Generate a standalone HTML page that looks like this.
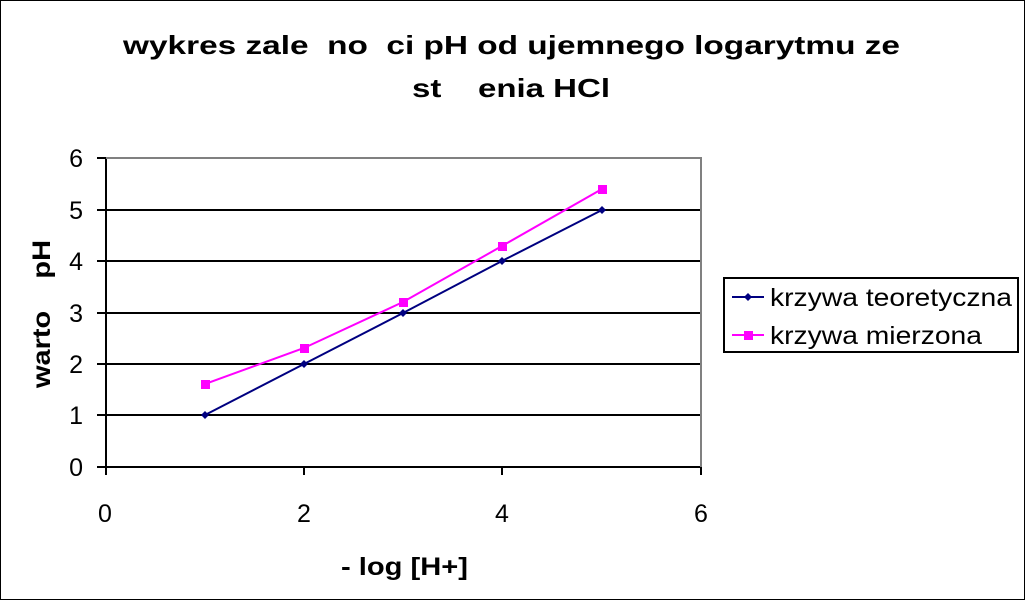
<!DOCTYPE html>
<html><head><meta charset="utf-8"><style>
body{margin:0;background:#fff}
svg text{font-family:"Liberation Sans",sans-serif}
</style></head><body>
<svg width="1025" height="600" xmlns="http://www.w3.org/2000/svg">
<rect x="0.5" y="0.5" width="1024" height="599" fill="#fff" stroke="#000"/>
<text x="123" y="54" font-size="26" font-weight="bold" textLength="777" lengthAdjust="spacingAndGlyphs" xml:space="preserve">wykres zale  no  ci pH od ujemnego logarytmu ze</text>
<text x="412" y="97" font-size="26" font-weight="bold" textLength="198" lengthAdjust="spacingAndGlyphs" xml:space="preserve">st    enia HCl</text>
<g stroke="#000" stroke-width="2">
<line x1="97" y1="210" x2="701" y2="210"/>
<line x1="97" y1="261" x2="701" y2="261"/>
<line x1="97" y1="313" x2="701" y2="313"/>
<line x1="97" y1="364" x2="701" y2="364"/>
<line x1="97" y1="415" x2="701" y2="415"/>
<line x1="97" y1="467" x2="701" y2="467"/>
<line x1="97" y1="158" x2="106" y2="158"/>
<line x1="106" y1="158" x2="106" y2="475"/>
<line x1="304" y1="467" x2="304" y2="475"/>
<line x1="502" y1="467" x2="502" y2="475"/>
<line x1="701" y1="467" x2="701" y2="475"/>
</g>
<polyline points="106,158 701,158 701,467" fill="none" stroke="#808080" stroke-width="2"/>
<g font-size="25" text-anchor="end">
<text x="83" y="167">6</text><text x="83" y="219">5</text><text x="83" y="270">4</text>
<text x="83" y="322">3</text><text x="83" y="373">2</text><text x="83" y="424">1</text><text x="83" y="476">0</text>
</g>
<g font-size="25" text-anchor="middle">
<text x="105" y="522">0</text><text x="304" y="522">2</text><text x="502" y="522">4</text><text x="701" y="522">6</text>
</g>
<text x="341" y="575" font-size="25" font-weight="bold" textLength="127" lengthAdjust="spacingAndGlyphs">- log [H+]</text>
<text transform="translate(50,388) rotate(-90)" font-size="25" font-weight="bold" textLength="148" lengthAdjust="spacingAndGlyphs" xml:space="preserve">warto    pH</text>
<polyline points="205,415 304,364 403,313 502,261 602,210" fill="none" stroke="#000080" stroke-width="2"/>
<g fill="#000080">
<polygon points="205,411 209,415 205,419 201,415"/><polygon points="304,360 308,364 304,368 300,364"/>
<polygon points="403,309 407,313 403,317 399,313"/><polygon points="502,257 506,261 502,265 498,261"/>
<polygon points="602,206 606,210 602,214 598,210"/>
</g>
<polyline points="205,384 304,348 403,302 502,246 602,189" fill="none" stroke="#ff00ff" stroke-width="2"/>
<g fill="#ff00ff">
<rect x="201" y="380" width="9" height="9"/><rect x="300" y="344" width="9" height="9"/>
<rect x="399" y="298" width="9" height="9"/><rect x="498" y="242" width="9" height="9"/>
<rect x="598" y="185" width="9" height="9"/>
</g>
<rect x="724" y="278" width="294" height="74" fill="#fff" stroke="#000" stroke-width="2"/>
<line x1="732" y1="297" x2="764" y2="297" stroke="#000080" stroke-width="2"/>
<polygon points="748,293 752,297 748,301 744,297" fill="#000080"/>
<text x="770" y="306" font-size="25" textLength="242" lengthAdjust="spacingAndGlyphs">krzywa teoretyczna</text>
<line x1="732" y1="335" x2="764" y2="335" stroke="#ff00ff" stroke-width="2"/>
<rect x="744" y="331" width="9" height="9" fill="#ff00ff"/>
<text x="770" y="344" font-size="25" textLength="212" lengthAdjust="spacingAndGlyphs">krzywa mierzona</text>
</svg>
</body></html>
